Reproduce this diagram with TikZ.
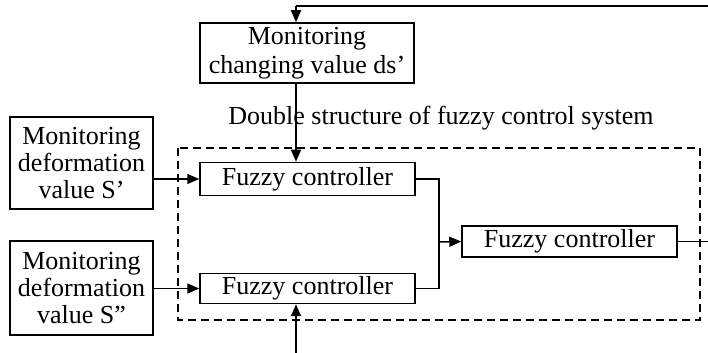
\documentclass[tikz,border=0pt]{standalone}
\usepackage{fontspec}
\setmainfont{Liberation Serif}
\usetikzlibrary{arrows.meta}
\begin{document}
\begin{tikzpicture}[x=0.5pt,y=-0.5pt,
  every node/.style={font=\fontsize{13pt}{13.5pt}\selectfont, inner sep=0pt},
  block/.style={draw, line width=0.75pt, align=center},
  flow/.style={line width=0.75pt, -{Triangle[length=6pt,width=5pt]}},
  wire/.style={line width=0.75pt}]
  \useasboundingbox (0,0) rectangle (708,353);

  % blocks
  \node[block, minimum width=107pt, minimum height=30pt,
        font=\fontsize{13pt}{14.5pt}\selectfont] (ds) at (307,53)
    {Monitoring\\changing value ds’};
  \node[block, minimum width=71.5pt, minimum height=46pt] (s1) at (81.5,163)
    {Monitoring\\deformation\\value S’};
  \node[block, minimum width=71.5pt, minimum height=47pt] (s2) at (81.5,288)
    {Monitoring\\deformation\\value S”};
  \node[block, minimum width=107.5pt, minimum height=16.5pt] (f1) at (307.5,179)
    {Fuzzy controller};
  \node[block, minimum width=107.5pt, minimum height=15pt] (f2) at (307.5,288.5)
    {Fuzzy controller};
  \node[block, minimum width=107.5pt, minimum height=15.5pt] (f3) at (569.5,241.5)
    {Fuzzy controller};

  % dashed frame of the double structure
  \draw[dashed, line width=0.75pt, dash pattern=on 4pt off 2.5pt] (178,148) rectangle (700,320);
  \node[anchor=center] (title) at (441,118) {Double structure of fuzzy control system};

  % helper coordinates
  \coordinate (tr) at (708,6);
  \coordinate (tx) at (296,6);
  \coordinate (bx) at (296,353);
  \coordinate (jx) at (439,242);
  \coordinate (out) at (708,241.5);

  % feedback from the right into the ds monitor
  \draw[wire] (tr) -- (tx);
  \draw[flow] (tx) -- (tx |- ds.north);
  \draw[flow] (ds.south -| tx) -- (tx |- f1.north);

  % inputs into the two first-level controllers
  \draw[flow] (s1.east |- f1.west) -- (f1.west);
  \draw[flow] (s2.east |- f2.west) -- (f2.west);
  \draw[flow] (bx) -- (bx |- f2.south);

  % merge into the second-level controller
  \draw[wire] (f1.east) -| (jx) |- (f2.east);
  \draw[flow] (jx) -- (f3.west);
  \draw[wire] (f3.east) -- (out);
\end{tikzpicture}
\end{document}
